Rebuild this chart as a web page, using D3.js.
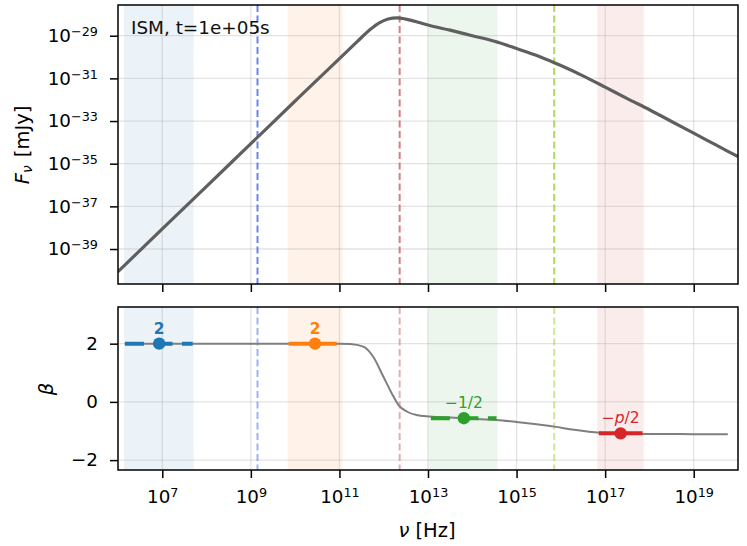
<!DOCTYPE html>
<html><head><meta charset="utf-8">
<script src="https://cdn.jsdelivr.net/npm/d3@7"></script>
<style>body{margin:0;background:#fff} svg{display:block} text{font-family:"DejaVu Sans",sans-serif}</style>
</head><body><svg id="c" width="747" height="546"></svg>
<script>
// ---------- data ----------
const xTickExps = [7, 9, 11, 13, 15, 17, 19];
const fluxTickExps = [-29, -31, -33, -35, -37, -39];
const betaTicks = [-2, 0, 2];

const fluxLogNu = [6, 7, 8, 9, 10, 11, 11.4, 11.7, 11.9, 12.1, 12.3, 12.5, 12.8, 13, 13.5, 14, 14.5, 15, 15.5, 16, 16.5, 17, 17.5, 18, 18.5, 19, 19.5, 20];
const fluxLogF  = [-40.06, -38.06, -36.06, -34.06, -32.06, -30.07, -29.28, -28.70, -28.40, -28.22, -28.16, -28.22, -28.38, -28.50, -28.74, -29.00, -29.26, -29.60, -29.96, -30.40, -30.88, -31.41, -31.95, -32.47, -33.02, -33.57, -34.12, -34.67];

const betaLogNu = [6.15, 8, 10, 11.0, 11.24, 11.54, 11.76, 11.99, 12.18, 12.33, 12.52, 12.74, 13.04, 13.5, 14.0, 14.55, 15.0, 15.5, 15.85, 16.3, 16.88, 17.3, 17.86, 18.5, 19.0, 19.77];
const betaValues = [2, 2, 2, 2.0, 1.99, 1.90, 1.56, 0.87, 0.30, -0.10, -0.33, -0.45, -0.50, -0.54, -0.58, -0.62, -0.69, -0.78, -0.85, -0.96, -1.06, -1.08, -1.10, -1.105, -1.11, -1.11];

const bandLo = [6.135, 9.83, 13.01, 16.82];
const bandHi = [7.71, 11.07, 14.57, 17.87];
const bandColors = ['#1f77b4', '#ff7f0e', '#2ca02c', '#d62728'];

const breakLogNu = [9.15, 12.36, 15.85];
const breakColors = ['#4169e1', '#cd5c5c', '#9acd32'];

const segLo = [6.158, 9.853, 13.066, 16.858];
const segHi = [7.686, 10.937, 14.548, 17.844];
const segDot = [6.93, 10.45, 13.81, 17.35];
const segBeta = [2, 2, -0.56, -1.08];
const segDashed = [true, false, true, false];
const segColors = ['#1f77b4', '#ff7f0e', '#2ca02c', '#d62728'];
const segLabels = ['2', '2', '−1/2', '−p/2'];

const annotation = 'ISM, t=1e+05s';

// ---------- layout ----------
const L = 118, R = 738;
const topT = 5, topB = 284, botT = 307, botB = 470;
const FS = 18.3;
const LFS = 19.5;

const svg = d3.select('#c');
const x = d3.scaleLog().domain([1e6, 1e20]).range([L, R]);
const yTop = d3.scaleLog().domain([Math.pow(10, -40.64), Math.pow(10, -27.56)]).range([topB, topT]);
const yBot = d3.scaleLinear().domain([-2.34, 3.26]).range([botB, botT]);

const defs = svg.append('defs');
defs.append('clipPath').attr('id', 'clipTop').append('rect').attr('x', L).attr('y', topT).attr('width', R - L).attr('height', topB - topT);
defs.append('clipPath').attr('id', 'clipBot').append('rect').attr('x', L).attr('y', botT).attr('width', R - L).attr('height', botB - botT);

function panel(clipId, y, yTicks, yT, yB, lineOpacity) {
  const g = svg.append('g').attr('clip-path', `url(#${clipId})`);
  bandLo.forEach((lo, i) => {
    g.append('rect').attr('x', x(Math.pow(10, lo))).attr('y', yT)
      .attr('width', x(Math.pow(10, bandHi[i])) - x(Math.pow(10, lo))).attr('height', yB - yT)
      .attr('fill', bandColors[i]).attr('fill-opacity', 0.09);
  });
  xTickExps.forEach(e => {
    g.append('line').attr('x1', x(Math.pow(10, e))).attr('x2', x(Math.pow(10, e))).attr('y1', yT).attr('y2', yB)
      .attr('stroke', '#b0b0b0').attr('stroke-opacity', 0.35).attr('stroke-width', 1.3);
  });
  yTicks.forEach(v => {
    g.append('line').attr('x1', L).attr('x2', R).attr('y1', y(v)).attr('y2', y(v))
      .attr('stroke', '#b0b0b0').attr('stroke-opacity', 0.35).attr('stroke-width', 1.3);
  });
  breakLogNu.forEach((e, i) => {
    g.append('line').attr('x1', x(Math.pow(10, e))).attr('x2', x(Math.pow(10, e))).attr('y1', yT).attr('y2', yB)
      .attr('stroke', breakColors[i]).attr('stroke-opacity', lineOpacity).attr('stroke-width', 2)
      .attr('stroke-dasharray', '7,3.5');
  });
  return g;
}

function frame(yT, yB) {
  svg.append('rect').attr('x', L).attr('y', yT).attr('width', R - L).attr('height', yB - yT)
    .attr('fill', 'none').attr('stroke', '#000').attr('stroke-width', 1.5);
}

function supLabel(sel, base, exp) {
  sel.text(null);
  sel.append('tspan').text(base);
  sel.append('tspan').attr('dy', '-0.48em').attr('font-size', '0.7em').text(exp);
}

// ---------- top panel ----------
const gTop = panel('clipTop', yTop, fluxTickExps.map(e => Math.pow(10, e)), topT, topB, 0.8);
gTop.append('path')
  .datum(fluxLogNu.map((n, i) => [Math.pow(10, n), Math.pow(10, fluxLogF[i])]))
  .attr('d', d3.line().curve(d3.curveMonotoneX).x(d => x(d[0])).y(d => yTop(d[1])))
  .attr('fill', 'none').attr('stroke', '#5f5f5f').attr('stroke-width', 3.2);

svg.append('text').attr('x', 131).attr('y', 34).attr('font-size', 18.4).attr('fill', '#111').text(annotation);

const axTopY = svg.append('g').attr('transform', `translate(${L},0)`)
  .call(d3.axisLeft(yTop).tickValues(fluxTickExps.map(e => Math.pow(10, e))).tickSize(8).tickSizeOuter(0).tickPadding(12).tickFormat(() => ''));
axTopY.selectAll('.tick text').each(function (d) {
  const e = Math.round(Math.log10(d));
  supLabel(d3.select(this), '10', '−' + Math.abs(e));
});
const axTopX = svg.append('g').attr('transform', `translate(0,${topB})`)
  .call(d3.axisBottom(x).tickValues(xTickExps.map(e => Math.pow(10, e))).tickSize(8).tickSizeOuter(0).tickFormat(() => ''));

// ---------- bottom panel ----------
const gBot = panel('clipBot', yBot, betaTicks, botT, botB, 0.5);
gBot.append('path')
  .datum(betaLogNu.map((n, i) => [Math.pow(10, n), betaValues[i]]))
  .attr('d', d3.line().curve(d3.curveMonotoneX).x(d => x(d[0])).y(d => yBot(d[1])))
  .attr('fill', 'none').attr('stroke', '#7f7f7f').attr('stroke-width', 2);

segLo.forEach((lo, i) => {
  const yy = yBot(segBeta[i]);
  gBot.append('line').attr('x1', x(Math.pow(10, lo))).attr('x2', x(Math.pow(10, segHi[i])))
    .attr('y1', yy).attr('y2', yy).attr('stroke', segColors[i]).attr('stroke-width', 4)
    .attr('stroke-dasharray', segDashed[i] ? '19,9.5' : null);
  gBot.append('circle').attr('cx', x(Math.pow(10, segDot[i]))).attr('cy', yy).attr('r', 6.2).attr('fill', segColors[i]);
  const t = svg.append('text').attr('x', x(Math.pow(10, segDot[i]))).attr('y', yy - 10)
    .attr('text-anchor', 'middle').attr('font-size', 15.5).attr('fill', segColors[i]);
  if (segLabels[i] === '2') {
    t.attr('font-weight', 'bold').text('2');
  } else if (segLabels[i].includes('p')) {
    t.append('tspan').text('−');
    t.append('tspan').attr('font-style', 'italic').text('p');
    t.append('tspan').text('/2');
  } else {
    t.text(segLabels[i]);
  }
});

const axBotY = svg.append('g').attr('transform', `translate(${L},0)`)
  .call(d3.axisLeft(yBot).tickValues(betaTicks).tickSize(8).tickSizeOuter(0).tickPadding(12).tickFormat(d => d < 0 ? '−' + Math.abs(d) : String(d)));
const axBotX = svg.append('g').attr('transform', `translate(0,${botB})`)
  .call(d3.axisBottom(x).tickValues(xTickExps.map(e => Math.pow(10, e))).tickSize(8).tickSizeOuter(0).tickPadding(7).tickFormat(() => ''));
axBotX.selectAll('.tick text').each(function (d) {
  const e = Math.round(Math.log10(d));
  supLabel(d3.select(this), '10', String(e));
});

[axTopY, axTopX, axBotY, axBotX].forEach(a => {
  a.select('.domain').remove();
  a.selectAll('.tick line').attr('stroke', '#000').attr('stroke-width', 1.5);
  a.selectAll('.tick text').attr('font-size', FS).attr('fill', '#000').attr('font-family', '"DejaVu Sans", sans-serif');
});
axBotX.selectAll('.tick text').attr('dy', '1.0em');

frame(topT, topB);
frame(botT, botB);

// axis labels
const yl = svg.append('text').attr('transform', 'translate(29,145) rotate(-90)').attr('text-anchor', 'middle').attr('font-size', LFS);
yl.append('tspan').attr('font-style', 'italic').text('F');
yl.append('tspan').attr('font-style', 'italic').attr('font-size', '0.7em').attr('dy', '0.25em').text('ν');
yl.append('tspan').attr('dy', '-0.175em').attr('dx', 2).text(' [mJy]');

svg.append('text').attr('transform', 'translate(53,389) rotate(-90)').attr('text-anchor', 'middle')
  .attr('font-size', LFS).attr('font-style', 'italic').text('β');

const xl = svg.append('text').attr('x', 427).attr('y', 537).attr('text-anchor', 'middle').attr('font-size', LFS);
xl.append('tspan').attr('font-style', 'italic').text('ν');
xl.append('tspan').text(' [Hz]');
</script></body></html>
